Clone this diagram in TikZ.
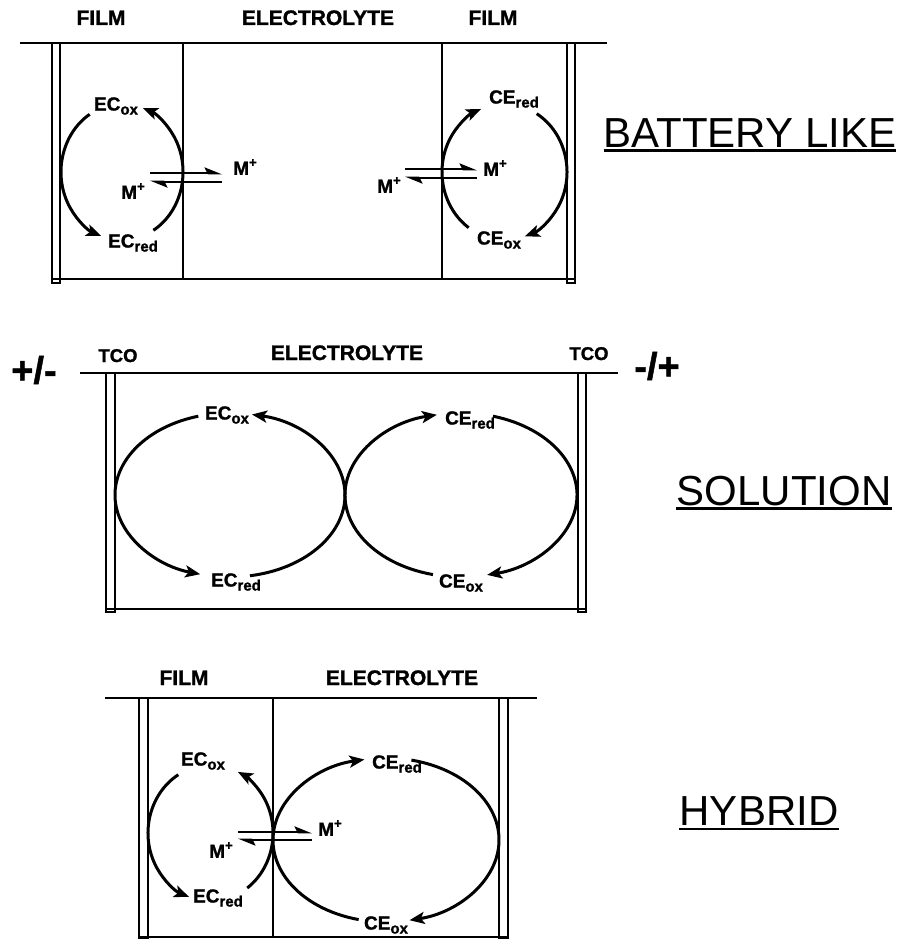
\documentclass[tikz,border=0pt]{standalone}
\usepackage{fontspec}
\setmainfont{Liberation Sans}[BoldFeatures={FakeBold=1.3}]
\usetikzlibrary{arrows.meta}
\newcommand\lsub[1]{\raisebox{-0.4ex}{\fontsize{15}{15}\selectfont #1}}
\newcommand\lsup{\raisebox{0.8ex}{\fontsize{13}{13}\selectfont +}}
\begin{document}
\begin{tikzpicture}[x=1pt,y=1pt,
  frame/.style={line width=2.8pt},
  dbl/.style={line width=2.1pt},
  cyc/.style={line width=3pt,-{Stealth[length=15pt,width=12pt,inset=3.5pt]}},
  eq/.style={line width=2.6pt,-{Stealth[harpoon,length=14pt,width=11pt,inset=2.5pt]}},
  hdr/.style={font=\fontsize{21}{21}\selectfont\bfseries, anchor=base, inner sep=0pt},
  tco/.style={font=\fontsize{18.5}{18.5}\selectfont\bfseries, anchor=base, inner sep=0pt},
  pm/.style={font=\fontsize{38}{38}\selectfont\bfseries, inner sep=0pt},
  lab/.style={font=\fontsize{19}{19}\selectfont\bfseries, inner sep=0pt},
  big/.style={font=\fontsize{42}{42}\selectfont, anchor=base, inner sep=0pt},
  ul/.style={line width=2.3pt}]
\useasboundingbox (0,0) rectangle (904,-939);

%% ---------------- BATTERY LIKE ----------------
\draw[dbl] (52,-43) rectangle (60,-283);
\draw[dbl] (567,-43) rectangle (575,-283);
\draw[frame] (20,-43) -- (607,-43);
\draw[frame] (52,-279) -- (575,-279);
\draw[frame] (183,-43) -- (183,-279);
\draw[frame] (442,-43) -- (442,-279);

\node[hdr] (f1) at (101,-25) {FILM};
\node[hdr] (e1) at (318,-25) {ELECTROLYTE};
\node[hdr] (f2) at (493,-25) {FILM};

\node[lab] (ecox1) at (116,-106) {EC\lsub{ox}};
\node[lab] (ecred1) at (133,-243) {EC\lsub{red}};
\node[lab] (cered1) at (514,-99) {CE\lsub{red}};
\node[lab] (ceox1) at (499,-240) {CE\lsub{ox}};
\node[lab] (m1a) at (245,-167) {M\lsup};
\node[lab] (m1b) at (133,-191) {M\lsup};
\node[lab] (m1c) at (495,-168) {M\lsup};
\node[lab] (m1d) at (389,-185) {M\lsup};

\coordinate (c1) at (122,-172);
\draw[cyc] (c1) ++(122:61 and 68) arc[start angle=122,end angle=250,x radius=61,y radius=68];
\draw[cyc] (c1) ++(-59:61 and 68) arc[start angle=-59,end angle=70,x radius=61,y radius=68];
\coordinate (c2) at (504.5,-172);
\draw[cyc] (c2) ++(235:62.5 and 68) arc[start angle=235,end angle=112,x radius=62.5,y radius=68];
\draw[cyc] (c2) ++(59:62.5 and 68) arc[start angle=59,end angle=-71,x radius=62.5,y radius=68];

\coordinate (q1a) at (150,-173); \coordinate (q1b) at (222,-173);
\coordinate (q1c) at (150,-182); \coordinate (q1d) at (222,-182);
\draw[eq] (q1a) -- (q1b);
\draw[eq] (q1d) -- (q1c);
\coordinate (q2a) at (405,-169); \coordinate (q2b) at (477,-169);
\coordinate (q2c) at (405,-178); \coordinate (q2d) at (477,-178);
\draw[eq] (q2a) -- (q2b);
\draw[eq] (q2d) -- (q2c);

\node[big] (bl) at (750,-147) {BATTERY LIKE};
\draw[ul] ([yshift=-3.5pt]bl.base west) -- ([yshift=-3.5pt]bl.base east);

%% ---------------- SOLUTION ----------------
\draw[dbl] (106,-373) rectangle (115,-612);
\draw[dbl] (578,-373) rectangle (586,-612);
\draw[frame] (80,-373) -- (618,-373);
\draw[frame] (106,-609) -- (586,-609);

\node[pm] (pmL) at (34,-370) {+/-};
\node[tco] (t1) at (118,-362) {TCO};
\node[hdr] (e2) at (347,-360) {ELECTROLYTE};
\node[tco] (t2) at (589,-360) {TCO};
\node[pm] (pmR) at (657,-366) {-/+};

\node[lab] (ecox2) at (227,-415) {EC\lsub{ox}};
\node[lab] (ecred2) at (236,-582) {EC\lsub{red}};
\node[lab] (cered2) at (470,-420) {CE\lsub{red}};
\node[lab] (ceox2) at (461,-583) {CE\lsub{ox}};

\coordinate (c3) at (230,-495);
\draw[cyc] (c3) ++(106:115 and 82) arc[start angle=106,end angle=255,x radius=115,y radius=82];
\draw[cyc] (c3) ++(-80:115 and 82) arc[start angle=-80,end angle=79,x radius=115,y radius=82];
\coordinate (c4) at (461,-495);
\draw[cyc] (c4) ++(256:116 and 82) arc[start angle=256,end angle=102,x radius=116,y radius=82];
\draw[cyc] (c4) ++(74:116 and 82) arc[start angle=74,end angle=-77,x radius=116,y radius=82];

\node[big] (sol) at (784,-505) {SOLUTION};
\draw[ul] ([yshift=-3.5pt]sol.base west) -- ([yshift=-3.5pt]sol.base east);

%% ---------------- HYBRID ----------------
\draw[dbl] (139,-698) rectangle (148,-939);
\draw[dbl] (499,-698) rectangle (508,-939);
\draw[frame] (105,-698) -- (537,-698);
\draw[frame] (139,-937) -- (508,-937);
\draw[frame] (273,-698) -- (273,-937);

\node[hdr] (f3) at (184,-685) {FILM};
\node[hdr] (e3) at (402,-685) {ELECTROLYTE};

\node[lab] (ecox3) at (203,-761) {EC\lsub{ox}};
\node[lab] (ecred3) at (218,-898) {EC\lsub{red}};
\node[lab] (cered3) at (397,-764) {CE\lsub{red}};
\node[lab] (ceox3) at (386,-925) {CE\lsub{ox}};
\node[lab] (m3a) at (330,-828) {M\lsup};
\node[lab] (m3b) at (221,-850) {M\lsup};

\coordinate (c5) at (210.5,-833);
\draw[cyc] (c5) ++(121:62.5 and 68) arc[start angle=121,end angle=250,x radius=62.5,y radius=68];
\draw[cyc] (c5) ++(-54:62.5 and 68) arc[start angle=-54,end angle=64,x radius=62.5,y radius=68];
\coordinate (c6) at (386,-840);
\draw[cyc] (c6) ++(256:113 and 82) arc[start angle=256,end angle=101,x radius=113,y radius=82];
\draw[cyc] (c6) ++(77:113 and 82) arc[start angle=77,end angle=-78,x radius=113,y radius=82];

\coordinate (q3a) at (238,-832); \coordinate (q3b) at (312,-832);
\coordinate (q3c) at (238,-840); \coordinate (q3d) at (312,-840);
\draw[eq] (q3a) -- (q3b);
\draw[eq] (q3d) -- (q3c);

\node[big] (hyb) at (759,-825) {HYBRID};
\draw[ul] ([yshift=-4pt]hyb.base west) -- ([yshift=-4pt]hyb.base east);
\end{tikzpicture}
\end{document}
